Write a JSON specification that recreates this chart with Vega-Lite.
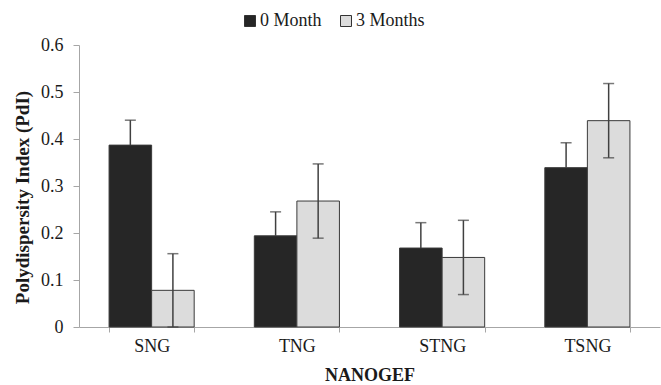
{
  "$schema": "https://vega.github.io/schema/vega-lite/v6.json",
  "width": 581,
  "height": 282,
  "autosize": {"type": "none"},
  "padding": {"left": 79, "top": 45, "right": 1, "bottom": 58},
  "background": "white",
  "config": {
    "view": {"stroke": null},
    "font": "Liberation Serif",
    "text": {"font": "Liberation Serif"},
    "axis": {"domainColor": "#a6a6a6", "tickColor": "#a6a6a6", "labelColor": "#1a1a1a", "titleColor": "#1a1a1a", "labelFont": "Liberation Serif", "titleFont": "Liberation Serif"},
    "legend": {"labelFont": "Liberation Serif", "titleFont": "Liberation Serif"}
  },
  "data": {
    "values": [
      {"group": "SNG", "series": "0 Month", "value": 0.387, "lo": 0.334, "hi": 0.440},
      {"group": "SNG", "series": "3 Months", "value": 0.078, "lo": 0.0, "hi": 0.156},
      {"group": "TNG", "series": "0 Month", "value": 0.194, "lo": 0.143, "hi": 0.245},
      {"group": "TNG", "series": "3 Months", "value": 0.268, "lo": 0.189, "hi": 0.347},
      {"group": "STNG", "series": "0 Month", "value": 0.168, "lo": 0.114, "hi": 0.222},
      {"group": "STNG", "series": "3 Months", "value": 0.148, "lo": 0.069, "hi": 0.227},
      {"group": "TSNG", "series": "0 Month", "value": 0.339, "lo": 0.286, "hi": 0.392},
      {"group": "TSNG", "series": "3 Months", "value": 0.439, "lo": 0.360, "hi": 0.518}
    ]
  },
  "encoding": {
    "x": {
      "field": "group", "type": "nominal", "sort": ["SNG", "TNG", "STNG", "TSNG"],
      "scale": {"paddingInner": 0.414, "paddingOuter": 0.207},
      "axis": {"title": "NANOGEF", "labelAngle": 0, "labelFont": "Liberation Serif", "titleFont": "Liberation Serif", "labelFontSize": 18, "titleFontSize": 18, "titleFontWeight": "bold", "tickBand": "extent", "tickSize": 5, "labelPadding": 5, "titlePadding": 11}
    },
    "xOffset": {"field": "series", "type": "nominal", "sort": ["0 Month", "3 Months"], "scale": {"paddingInner": 0, "paddingOuter": 0}}
  },
  "layer": [
    {
      "mark": {"type": "bar", "stroke": "#3a3a3a", "strokeWidth": 1},
      "encoding": {
        "y": {
          "field": "value", "type": "quantitative",
          "scale": {"domain": [0, 0.6]},
          "axis": {"title": "Polydispersity Index (PdI)", "values": [0, 0.1, 0.2, 0.3, 0.4, 0.5, 0.6], "format": "~g", "grid": false, "labelFont": "Liberation Serif", "titleFont": "Liberation Serif", "labelFontSize": 18, "titleFontSize": 19, "titleFontWeight": "bold", "tickSize": 6, "labelPadding": 10, "titlePadding": 8, "titleY": 152}
        },
        "color": {
          "field": "series", "type": "nominal", "sort": ["0 Month", "3 Months"],
          "scale": {"domain": ["0 Month", "3 Months"], "range": ["#262626", "#dcdcdc"]},
          "legend": {"title": null, "orient": "none", "direction": "horizontal", "legendX": 162, "legendY": -33, "symbolType": "square", "symbolSize": 121, "symbolStrokeColor": "#333", "symbolStrokeWidth": 1, "labelFont": "Liberation Serif", "labelFontSize": 18, "labelOffset": 1, "columnPadding": 15, "labelColor": "#1a1a1a"}
        }
      }
    },
    {
      "transform": [{"filter": "datum.series === '3 Months'"}],
      "mark": {"type": "rule", "color": "#404040", "strokeWidth": 1.5},
      "encoding": {
        "y": {"field": "lo", "type": "quantitative"},
        "y2": {"field": "hi"}
      }
    },
    {
      "transform": [{"filter": "datum.series === '0 Month'"}],
      "mark": {"type": "rule", "color": "#404040", "strokeWidth": 1.5},
      "encoding": {
        "y": {"field": "value", "type": "quantitative"},
        "y2": {"field": "hi"}
      }
    },
    {
      "mark": {"type": "tick", "color": "#404040", "thickness": 1.5, "size": 11},
      "encoding": {"y": {"field": "hi", "type": "quantitative"}}
    },
    {
      "transform": [{"filter": "datum.series === '3 Months'"}],
      "mark": {"type": "tick", "color": "#404040", "thickness": 1.5, "size": 11},
      "encoding": {"y": {"field": "lo", "type": "quantitative"}}
    }
  ]
}
